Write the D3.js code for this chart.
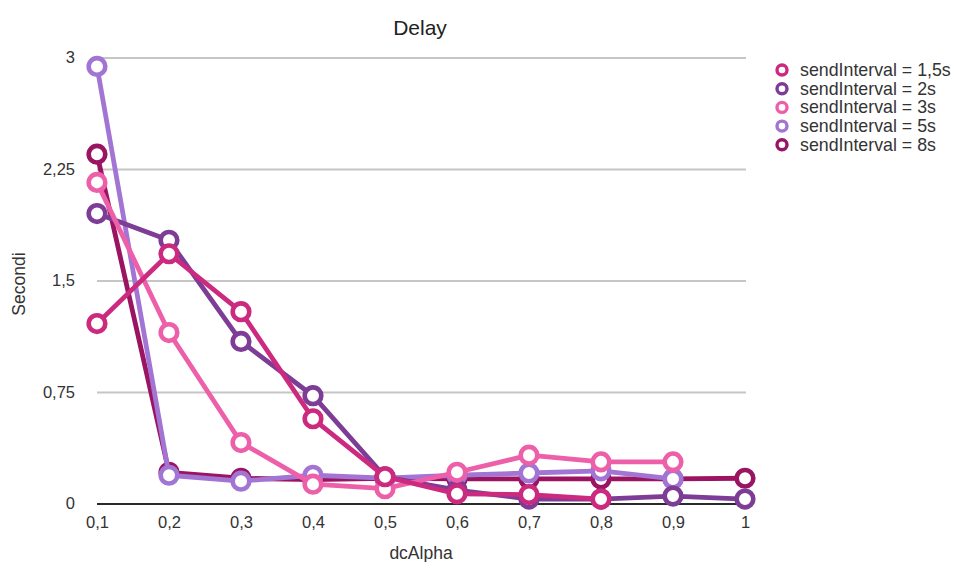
<!DOCTYPE html>
<html><head><meta charset="utf-8">
<script src="https://cdn.jsdelivr.net/npm/d3@7/dist/d3.min.js"></script>
<style>body{margin:0;background:#fff;} text{font-family:"Liberation Sans",Arial,sans-serif;}</style>
</head><body>
<svg id="c" width="955" height="562"></svg>
<script>
const categories = [0.1,0.2,0.3,0.4,0.5,0.6,0.7,0.8,0.9,1];
const xTickLabels = ["0,1","0,2","0,3","0,4","0,5","0,6","0,7","0,8","0,9","1"];
const yTicks = [0,0.75,1.5,2.25,3];
const yTickLabels = ["0","0,75","1,5","2,25","3"];
const seriesNames = ["sendInterval = 1,5s","sendInterval = 2s","sendInterval = 3s","sendInterval = 5s","sendInterval = 8s"];
const s15 = [1.21,1.68,1.29,0.57,0.18,0.065,0.06,0.03,null,null];
const s2  = [1.95,1.77,1.09,0.725,0.18,0.09,0.03,0.03,0.05,0.03];
const s3  = [2.16,1.15,0.41,0.13,0.1,0.21,0.325,0.28,0.28,null];
const s5  = [2.94,0.19,0.15,0.19,0.17,0.19,0.205,0.22,0.165,null];
const s8  = [2.35,0.21,0.17,0.16,0.17,0.165,0.165,0.165,0.165,0.17];
const colors = ["#cc2a7f","#7d3c95","#ee5fa9","#a275d4","#9b1462"];
const seriesValues = [s15,s2,s3,s5,s8];
const drawOrder = [4,3,1,2,0];

const svg = d3.select("#c");
const x = d3.scaleLinear().domain([0.1,1]).range([97,745]);
const y = d3.scaleLinear().domain([0,3]).range([503.5,57.5]);

const yAxis = d3.axisLeft(y).tickValues(yTicks).tickSize(-(746-97)).tickFormat((d,i)=>yTickLabels[i]).tickPadding(22);
const gy = svg.append("g").attr("transform","translate(97,0)").call(yAxis);
gy.select(".domain").remove();
gy.selectAll(".tick line").attr("stroke",d=>d===0?"#2a2a2a":"#c6c6c6").attr("stroke-width",d=>d===0?1.8:2);
gy.selectAll(".tick text").attr("font-size",16.5).attr("fill","#333").attr("x",-22);

const xAxis = d3.axisBottom(x).tickValues(categories).tickSize(0).tickPadding(13).tickFormat((d,i)=>xTickLabels[i]);
const gx = svg.append("g").attr("transform","translate(0,503.5)").call(xAxis);
gx.select(".domain").remove();
gx.selectAll(".tick text").attr("font-size",16.5).attr("fill","#333");

svg.append("text").attr("x",420).attr("y",35).attr("text-anchor","middle").attr("font-size",21).attr("fill","#222").text("Delay");
svg.append("text").attr("x",421).attr("y",559).attr("text-anchor","middle").attr("font-size",17.5).attr("fill","#333").text("dcAlpha");
svg.append("text").attr("transform","translate(25,284) rotate(-90)").attr("text-anchor","middle").attr("font-size",17.5).attr("fill","#333").text("Secondi");

const line = d3.line().defined(d=>d.v!=null).x(d=>x(d.c)).y(d=>y(d.v));
drawOrder.forEach(si=>{
  const data = categories.map((c,i)=>({c, v: seriesValues[si][i]}));
  const g = svg.append("g");
  g.append("path").datum(data).attr("d",line).attr("fill","none").attr("stroke",colors[si]).attr("stroke-width",4.8).attr("stroke-linejoin","round");
  g.selectAll("circle").data(data.filter(d=>d.v!=null)).join("circle")
    .attr("cx",d=>x(d.c)).attr("cy",d=>y(d.v)).attr("r",8.3).attr("fill","#fff").attr("stroke",colors[si]).attr("stroke-width",4.6);
});

const lg = svg.append("g");
seriesNames.forEach((n,i)=>{
  const yy = 70 + i*18.7;
  lg.append("circle").attr("cx",782).attr("cy",yy).attr("r",5).attr("fill","#fff").attr("stroke",colors[i]).attr("stroke-width",3.4);
  lg.append("text").attr("x",800).attr("y",yy+6).attr("font-size",17.8).attr("fill","#333").text(n);
});
</script>
</body></html>
